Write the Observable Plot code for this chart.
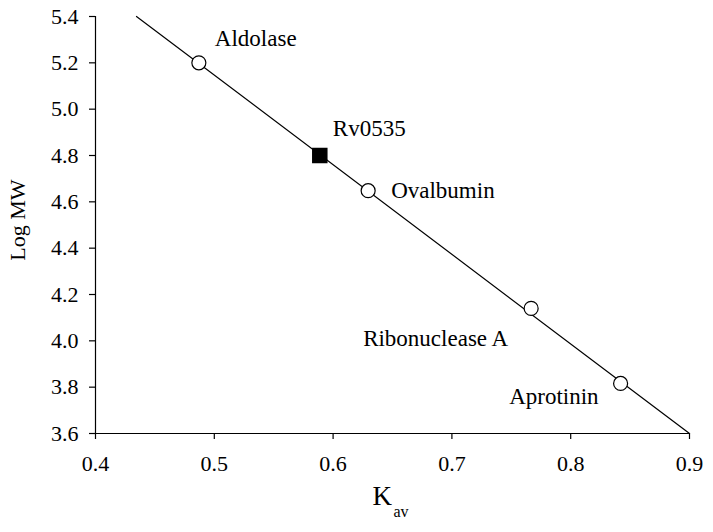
<!DOCTYPE html>
<html>
<head>
<meta charset="utf-8">
<script src="https://cdn.jsdelivr.net/npm/d3@7"></script>
<script src="https://cdn.jsdelivr.net/npm/@observablehq/plot@0.6"></script>
<style>
  html, body { margin: 0; padding: 0; background: #fff; }
  #chart svg, #chart svg text { font-family: "Liberation Serif", "Times New Roman", serif !important; }
</style>
</head>
<body>
<div id="chart"></div>
<script>
// Standard proteins
const standardNames = ["Aldolase", "Ovalbumin", "Ribonuclease A", "Aprotinin"];
const standardKav = [0.487, 0.6295, 0.7667, 0.842];
const standardLogMW = [5.20, 4.648, 4.140, 3.816];

// Unknown protein
const unknownNames = ["Rv0535"];
const unknownKav = [0.5888];
const unknownLogMW = [4.80];

// Calibration line end points (as drawn)
const fitKav = [0.4345, 0.9];
const fitLogMW = [5.4, 3.6];

// Axes
const xTicks = [0.4, 0.5, 0.6, 0.7, 0.8, 0.9];
const yTicks = [3.6, 3.8, 4.0, 4.2, 4.4, 4.6, 4.8, 5.0, 5.2, 5.4];
const xDomain = [0.4, 0.9];
const yDomain = [3.6, 5.4];
const yTitle = ["Log MW"];
const xTitleMain = ["K"];
const xTitleSub = ["av"];

const standards = standardNames.map((name, i) => ({name, kav: standardKav[i], logmw: standardLogMW[i]}));
const unknown = unknownNames.map((name, i) => ({name, kav: unknownKav[i], logmw: unknownLogMW[i]}));
const fit = fitKav.map((k, i) => ({kav: k, logmw: fitLogMW[i]}));

const font = "Liberation Serif";
const labelSize = 23;

function label(name, opts) {
  return Plot.text(standards.concat(unknown).filter(d => d.name === name), {
    x: "kav", y: "logmw", text: "name",
    fontSize: labelSize, fontFamily: font, fill: "black", ...opts
  });
}

const chart = Plot.plot({
  width: 713,
  height: 532,
  marginLeft: 95,
  marginRight: 24,
  marginTop: 16,
  marginBottom: 99,
  style: {background: "#fff", color: "black"},
  x: {domain: xDomain, ticks: xTicks},
  y: {domain: yDomain, ticks: yTicks},
  marks: [
    Plot.axisX({ticks: xTicks, tickSize: 6, tickPadding: 16, fontSize: 22, fontFamily: font, tickFormat: d => d.toFixed(1), label: null, stroke: "black", strokeWidth: 1.2}),
    Plot.axisY({ticks: yTicks, tickSize: 6, tickPadding: 11, fontSize: 22, fontFamily: font, tickFormat: d => d.toFixed(1), label: null, stroke: "black", strokeWidth: 1.2}),
    Plot.ruleY([yDomain[0]], {stroke: "black", strokeWidth: 1.2}),
    Plot.ruleX([xDomain[0]], {stroke: "black", strokeWidth: 1.2}),
    Plot.line(fit, {x: "kav", y: "logmw", stroke: "black", strokeWidth: 1.2}),
    Plot.dot(standards, {x: "kav", y: "logmw", r: 7, fill: "white", stroke: "black", strokeWidth: 1.2}),
    Plot.dot(unknown, {x: "kav", y: "logmw", symbol: "square", r: 7.9, fill: "black", stroke: "black"}),
    label("Aldolase", {textAnchor: "start", dx: 16, dy: -24}),
    label("Rv0535", {textAnchor: "start", dx: 13, dy: -27}),
    label("Ovalbumin", {textAnchor: "start", dx: 23, dy: 0}),
    label("Ribonuclease A", {textAnchor: "end", dx: -23, dy: 30}),
    label("Aprotinin", {textAnchor: "end", dx: -22, dy: 13}),
    Plot.text(yTitle, {frameAnchor: "left", text: d => d, rotate: -90, textAnchor: "middle", dx: -78, dy: -5, fontSize: 22, fontFamily: font, fill: "black"}),
    Plot.text(xTitleMain, {frameAnchor: "bottom", text: d => d, textAnchor: "start", dx: -20, dy: 71, fontSize: 27, fontFamily: font, fill: "black"}),
    Plot.text(xTitleSub, {frameAnchor: "bottom", text: d => d, textAnchor: "start", dx: 1, dy: 83, fontSize: 16, fontFamily: font, fill: "black"})
  ]
});
document.getElementById("chart").append(chart);
</script>
</body>
</html>
